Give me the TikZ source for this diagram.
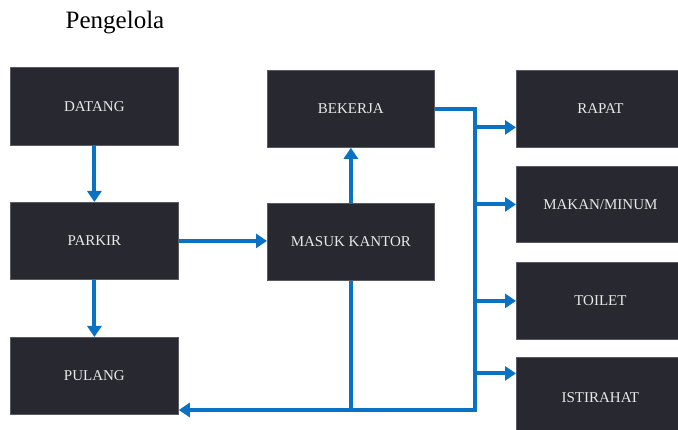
\documentclass[tikz,border=0pt]{standalone}
\usepackage{fontspec}
\setmainfont{Liberation Serif}
\usetikzlibrary{arrows.meta}
\definecolor{boxfill}{HTML}{282830}
\definecolor{boxedge}{HTML}{5A5A62}
\definecolor{flow}{HTML}{0A72C4}
\definecolor{labeltext}{HTML}{E8E8E8}
\begin{document}
\begin{tikzpicture}[x=1pt,y=-1pt,
  stepbox/.style={draw=boxedge, line width=0.8pt, fill=boxfill, text=labeltext,
    font=\fontsize{15}{18}\selectfont, minimum width=168pt, minimum height=77pt,
    inner sep=0pt, anchor=north west},
  flowline/.style={draw=flow, line width=4pt, line join=miter},
  flowarrow/.style={flowline, -{Triangle[width=14pt,length=11pt]}}]
\useasboundingbox (0,0) rectangle (678,430);
\clip (0,0) rectangle (678,430);
\node[font=\fontsize{25}{30}\selectfont, anchor=center] (title) at (115,23) {Pengelola};
\node[stepbox, minimum height=78pt] (datang) at (10,67) {DATANG};
\node[stepbox] (parkir) at (10,202) {PARKIR};
\node[stepbox] (pulang) at (10,337) {PULANG};
\node[stepbox, minimum width=167pt] (masuk) at (267,203) {MASUK KANTOR};
\node[stepbox, minimum width=167pt] (bekerja) at (267,70) {BEKERJA};
\node[stepbox] (rapat) at (516,70) {RAPAT};
\node[stepbox, minimum height=76pt] (makan) at (516,166) {MAKAN/MINUM};
\node[stepbox] (toilet) at (516,262) {TOILET};
\node[stepbox, minimum height=80pt] (istirahat) at (516,357) {ISTIRAHAT};
% connectors
\draw[flowarrow] (datang.south) -- (parkir.north);
\draw[flowarrow] (parkir.south) -- (pulang.north);
\draw[flowarrow] (parkir.east) -- (parkir.east -| masuk.west);
\draw[flowarrow] (masuk.north) -- (bekerja.south);
\coordinate (bt) at (475,108);
\coordinate (bb) at (475,410);
\draw[flowline] (bekerja.east) -- (bekerja.east -| bt) -- (bb);
\coordinate (rin) at ([yshift=-18.5pt]rapat.west);
\coordinate (iin) at ([yshift=24pt]istirahat.west);
\draw[flowarrow] (bt |- rin) -- (rin);
\draw[flowarrow] (bt |- makan.west) -- (makan.west);
\draw[flowarrow] (bt |- toilet.west) -- (toilet.west);
\draw[flowarrow] (bt |- iin) -- (iin);
\draw[flowline] (masuk.south) -- (masuk.south |- bb);
\draw[flowarrow] ([xshift=2pt]bb) -- (pulang.east |- bb);
\end{tikzpicture}
\end{document}
